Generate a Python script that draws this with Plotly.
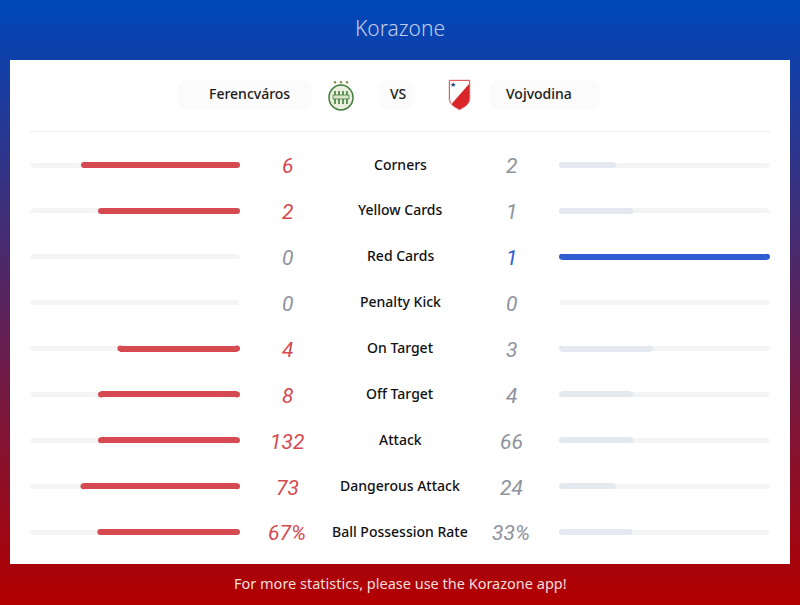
import plotly.graph_objects as go

# ---------------- data ----------------
categories = ["Corners", "Yellow Cards", "Red Cards", "Penalty Kick", "On Target",
              "Off Target", "Attack", "Dangerous Attack", "Ball Possession Rate"]
home_values = [6, 2, 0, 0, 4, 8, 132, 73, 67]
away_values = [2, 1, 1, 0, 3, 4, 66, 24, 33]
value_suffix = ["", "", "", "", "", "", "", "", "%"]
home_team = "Ferencváros"
away_team = "Vojvodina"
title_text = "Korazone"
footer_text = "For more statistics, please use the Korazone app!"

# ---------------- style ----------------
W, H = 800, 605
RED = "#d44a50"
BLUE = "#2f5bd3"
GRAY_FILL = "#e4e8ef"
TRACK = "#f3f4f6"
NUM_GRAY = "#8e929c"
ROW0_PX, ROW_STEP_PX = 165, 45.875
FILL_PX, TRACK_PX = 6, 5


def px(x):
    return x / W


def py(y):
    return 1 - y / H


rows = list(range(len(categories)))
home_frac = [h / (h + a) if (h + a) > 0 else 0 for h, a in zip(home_values, away_values)]
away_frac = [a / (h + a) if (h + a) > 0 else 0 for h, a in zip(home_values, away_values)]
home_colors = [RED if h > a else GRAY_FILL for h, a in zip(home_values, away_values)]
away_colors = [BLUE if a > h else GRAY_FILL for h, a in zip(home_values, away_values)]
home_num_colors = [RED if h > a else NUM_GRAY for h, a in zip(home_values, away_values)]
away_num_colors = [BLUE if a > h else NUM_GRAY for h, a in zip(home_values, away_values)]

fig = go.Figure()


def add_side(frac, colors, xa):
    # track
    fig.add_trace(go.Bar(y=rows, x=[1] * len(rows), orientation="h", width=TRACK_PX / ROW_STEP_PX,
                         marker=dict(color=TRACK, line_width=0),
                         xaxis=xa, yaxis="y", hoverinfo="skip"))
    # fill
    fig.add_trace(go.Bar(y=rows, x=frac, orientation="h", width=FILL_PX / ROW_STEP_PX,
                         marker=dict(color=colors, line_width=0),
                         xaxis=xa, yaxis="y", hoverinfo="skip"))


def add_caps(frac, colors, xa):
    # rounded caps of the track
    fig.add_trace(go.Scatter(y=rows + rows, x=[0] * len(rows) + [1] * len(rows), mode="markers",
                             marker=dict(symbol="circle", size=TRACK_PX, color=TRACK, line_width=0),
                             xaxis=xa, yaxis="y", hoverinfo="skip", cliponaxis=False))
    # rounded caps of the filled part
    ys, xs, cs = [], [], []
    for r, f, c in zip(rows, frac, colors):
        if f > 0:
            ys += [r, r]
            xs += [0, f]
            cs += [c, c]
    fig.add_trace(go.Scatter(y=ys, x=xs, mode="markers",
                             marker=dict(symbol="circle", size=FILL_PX, color=cs, line_width=0),
                             xaxis=xa, yaxis="y", hoverinfo="skip", cliponaxis=False))


add_side(home_frac, home_colors, "x")
add_side(away_frac, away_colors, "x2")
add_caps(home_frac, home_colors, "x")
add_caps(away_frac, away_colors, "x2")

# y range so rows land at the right pixel rows
span = H / ROW_STEP_PX
r_top = -ROW0_PX / ROW_STEP_PX
r_bottom = r_top + span

shapes = []
# gradient background
N = 121
c0 = (0, 71, 186)
c1 = (178, 0, 0)
for k in range(N):
    t = k / (N - 1)
    c = tuple(int(round(c0[i] + (c1[i] - c0[i]) * t)) for i in range(3))
    shapes.append(dict(type="rect", xref="paper", yref="paper", layer="below",
                       x0=0, x1=1, y0=1 - (k + 1) / N - 0.001, y1=1 - k / N,
                       fillcolor="rgb(%d,%d,%d)" % c, line_width=0))
# white card
shapes.append(dict(type="rect", xref="paper", yref="paper", layer="below",
                   x0=px(10), x1=px(790), y0=py(564), y1=py(60),
                   fillcolor="white", line_width=0))


def pill(x0, x1, y0, y1, r=8, color="#fbfbfb"):
    p = (f"M {px(x0 + r)} {py(y0)} L {px(x1 - r)} {py(y0)} "
         f"Q {px(x1)} {py(y0)} {px(x1)} {py(y0 + r)} L {px(x1)} {py(y1 - r)} "
         f"Q {px(x1)} {py(y1)} {px(x1 - r)} {py(y1)} L {px(x0 + r)} {py(y1)} "
         f"Q {px(x0)} {py(y1)} {px(x0)} {py(y1 - r)} L {px(x0)} {py(y0 + r)} "
         f"Q {px(x0)} {py(y0)} {px(x0 + r)} {py(y0)} Z")
    return dict(type="path", xref="paper", yref="paper", layer="below", path=p,
                fillcolor=color, line_width=0)


shapes.append(pill(178, 312, 80, 109))
shapes.append(pill(380, 412, 80, 109))
shapes.append(pill(490, 600, 80, 109))
# divider
shapes.append(dict(type="line", xref="paper", yref="paper", layer="below",
                   x0=px(30), x1=px(770), y0=py(131.5), y1=py(131.5),
                   line=dict(color="#eeeeee", width=1)))
# Ferencvaros logo (simplified)
shapes.append(dict(type="circle", xref="paper", yref="paper", layer="above",
                   x0=px(329), x1=px(353), y0=py(110), y1=py(85),
                   fillcolor="#e9efdc", line=dict(color="#3f7b3c", width=1.5)))
for sx in [335, 339, 343, 347]:
    shapes.append(dict(type="line", xref="paper", yref="paper", layer="above",
                       x0=px(sx), x1=px(sx), y0=py(91), y1=py(104),
                       line=dict(color="#3f7b3c", width=1.6)))
shapes.append(dict(type="rect", xref="paper", yref="paper", layer="above",
                   x0=px(333), x1=px(349), y0=py(99), y1=py(95),
                   fillcolor="#d9e4c8", line=dict(color="#3f7b3c", width=0.8)))
for sx in [335, 341, 347]:
    shapes.append(dict(type="circle", xref="paper", yref="paper", layer="above",
                       x0=px(sx - 1.2), x1=px(sx + 1.2), y0=py(83.5), y1=py(81),
                       fillcolor="#8a8a40", line_width=0))
# Vojvodina shield (simplified)
shield = (f"M {px(449)} {py(80)} L {px(470)} {py(80)} L {px(470)} {py(99)} "
          f"Q {px(470)} {py(105)} {px(459.5)} {py(110)} Q {px(449)} {py(105)} {px(449)} {py(99)} Z")
shapes.append(dict(type="path", xref="paper", yref="paper", layer="above", path=shield,
                   fillcolor="#d9262b", line=dict(color="#e8b0b0", width=0.8)))
white_part = (f"M {px(450)} {py(81)} L {px(469)} {py(81)} L {px(469)} {py(84)} "
              f"L {px(451.5)} {py(104)} Q {px(450)} {py(101)} {px(450)} {py(99)} Z")
shapes.append(dict(type="path", xref="paper", yref="paper", layer="above", path=white_part,
                   fillcolor="#ffffff", line_width=0))

annotations = []
annotations.append(dict(text=title_text, x=0.5, y=py(28), xref="paper", yref="paper",
                        showarrow=False, xanchor="center", yanchor="middle",
                        font=dict(family="Noto Sans", size=21, color="#c3cde9", weight=300)))
annotations.append(dict(text=footer_text, x=0.5, y=py(583), xref="paper", yref="paper",
                        showarrow=False, xanchor="center", yanchor="middle",
                        font=dict(family="Noto Sans", size=14.5, color="#f3dede")))
annotations.append(dict(text="★", x=px(453), y=py(84.5), xref="paper", yref="paper",
                        showarrow=False, xanchor="center", yanchor="middle",
                        font=dict(size=7, color="#1d3b8c")))
for txt, xc in [(home_team, 249), ("VS", 398), (away_team, 539)]:
    annotations.append(dict(text=txt, x=px(xc), y=py(94), xref="paper", yref="paper",
                            showarrow=False, xanchor="center", yanchor="middle",
                            font=dict(family="Noto Sans", size=14, color="#1a1a1a", weight=500)))

for i, cat in enumerate(categories):
    annotations.append(dict(text=cat, x=0.5, y=rows[i] - 0.02, xref="paper", yref="y",
                            showarrow=False, xanchor="center", yanchor="middle",
                            font=dict(family="Noto Sans", size=14, color="#111111", weight=500)))
    annotations.append(dict(text=f"{home_values[i]}{value_suffix[i]}", x=px(287), y=rows[i] + 0.03,
                            xref="paper", yref="y", showarrow=False,
                            xanchor="center", yanchor="middle",
                            font=dict(family="Roboto", size=21, color=home_num_colors[i], style="italic")))
    annotations.append(dict(text=f"{away_values[i]}{value_suffix[i]}", x=px(511), y=rows[i] + 0.03,
                            xref="paper", yref="y", showarrow=False,
                            xanchor="center", yanchor="middle",
                            font=dict(family="Roboto", size=21, color=away_num_colors[i], style="italic")))

half = FILL_PX / 2
fig.update_layout(
    width=W, height=H, margin=dict(l=0, r=0, t=0, b=0, pad=0),
    paper_bgcolor="rgb(0,71,186)", plot_bgcolor="rgba(0,0,0,0)",
    barmode="overlay", showlegend=False, bargap=0,
    xaxis=dict(domain=[px(30 + half), px(240 - half)], range=[1, 0], visible=False,
               fixedrange=True, anchor="y"),
    xaxis2=dict(domain=[px(559 + half), px(770 - half)], range=[0, 1], visible=False,
                fixedrange=True, anchor="y"),
    yaxis=dict(domain=[0, 1], range=[r_bottom, r_top], visible=False, fixedrange=True),
    shapes=shapes, annotations=annotations,
)

fig.write_html("out.html", config={"displayModeBar": False})
